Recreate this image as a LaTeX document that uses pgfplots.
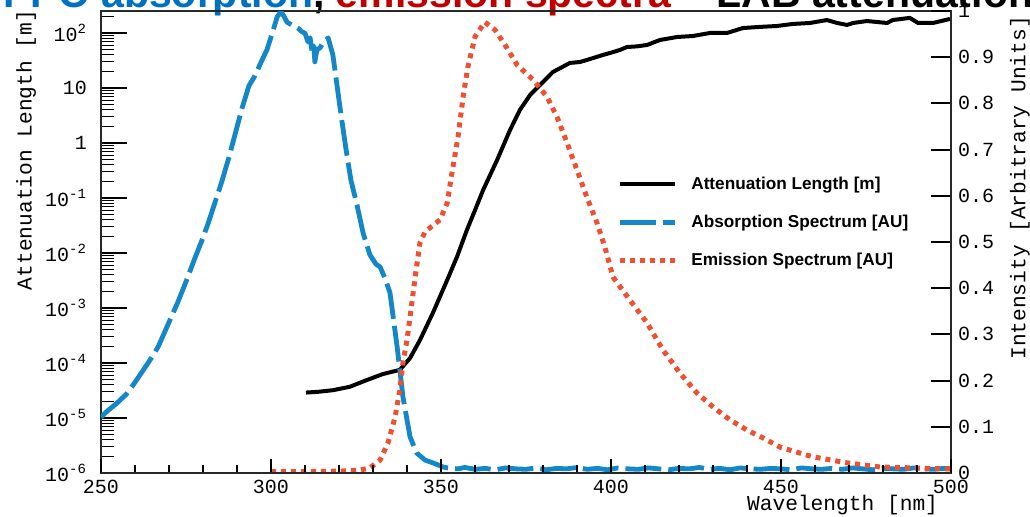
\documentclass[border=0pt]{standalone}
\usepackage{pgfplots}
\pgfplotsset{compat=1.18}
\usepackage{fontspec}
\setmainfont{Liberation Sans}
\setmonofont{Liberation Mono}
\definecolor{absblue}{RGB}{20,135,200}
\definecolor{emred}{RGB}{238,80,50}
\definecolor{titleblue}{RGB}{0,112,192}
\definecolor{titlered}{RGB}{192,0,0}
\definecolor{frame}{RGB}{40,40,40}

\begin{document}
\begin{tikzpicture}
\useasboundingbox (-50.5pt,-21.5pt) rectangle (464.5pt,236.5pt);
\begin{scope}
\clip (-50.5pt,-21.5pt) rectangle (464.5pt,236.5pt);
\node[anchor=base west, font=\bfseries\fontsize{20.5}{24}\selectfont, inner sep=0pt] at (-49pt,233pt)
  {\textcolor{titleblue}{PPO absorption}, \textcolor{titlered}{emission spectra} – LAB attenuation};
\end{scope}

% ---------- left log axis: attenuation length ----------
\begin{axis}[
  at={(0pt,0pt)}, anchor=south west, scale only axis,
  width=425pt, height=231pt,
  xmin=250, xmax=500, ymode=log, ymin=1e-6, ymax=251,
  xtick=\empty,
  ytick={1e-6,1e-5,1e-4,1e-3,1e-2,1e-1,1,10,100},
  yticklabels={10\textsuperscript{-6},10\textsuperscript{-5},10\textsuperscript{-4},10\textsuperscript{-3},10\textsuperscript{-2},10\textsuperscript{-1},1,10,10\textsuperscript{2}},
  minor ytick={2e-6,3e-6,4e-6,5e-6,6e-6,7e-6,8e-6,9e-6,
    2e-5,3e-5,4e-5,5e-5,6e-5,7e-5,8e-5,9e-5,
    2e-4,3e-4,4e-4,5e-4,6e-4,7e-4,8e-4,9e-4,
    2e-3,3e-3,4e-3,5e-3,6e-3,7e-3,8e-3,9e-3,
    2e-2,3e-2,4e-2,5e-2,6e-2,7e-2,8e-2,9e-2,
    0.2,0.3,0.4,0.5,0.6,0.7,0.8,0.9,
    2,3,4,5,6,7,8,9,
    20,30,40,50,60,70,80,90,200},
  ytick pos=left, tick align=inside,
  major tick length=13pt, minor tick length=6.5pt,
  every major tick/.append style={line width=1pt, black},
  every minor tick/.append style={line width=0.5pt, black},
  axis line style={line width=1pt, frame},
  yticklabel style={font=\ttfamily\fontsize{10}{12}\selectfont, xshift=-3.5pt},
  ylabel={Attenuation Length [m]},
  ylabel style={font=\ttfamily\fontsize{10.6}{12}\selectfont, at={(axis description cs:-0.088,0.699)}, anchor=center},
]
\addplot[black, line width=2pt, line join=round] coordinates {
(310.3,2.9e-5) (314,3.0e-5) (318.2,3.2e-5) (323.2,3.7e-5) (328.2,4.9e-5) (332.9,6.3e-5)
(337.9,7.5e-5) (340.9,1.23e-4) (343.8,2.6e-4) (347.6,8.1e-4) (351.8,3.2e-3) (354.7,8.5e-3)
(357.6,2.6e-2) (360,6.0e-2) (362.4,0.14) (366.5,0.49) (370.3,1.72) (373.2,3.98) (376.2,7.46)
(379.1,11.3) (382.9,19.5) (387.9,28.5) (390.9,29.7) (392.9,32.3) (397.6,39.8) (399.7,43.3)
(402.6,49.1) (404.7,55.6) (407.5,57) (410.6,60.5) (414.4,74.6) (419.4,84.5) (424.1,88.1)
(429.1,100) (434.1,100) (438.8,123) (443.8,129) (448.8,134) (453.5,146) (458.5,152)
(463.5,172) (466.5,152) (469.4,140) (471.2,152) (475.3,165) (481.2,152) (482.9,172)
(487.9,188) (490.3,152) (494.7,152) (499.7,180)
};
\end{axis}

% ---------- right linear axis: spectra ----------
\begin{axis}[
  at={(0pt,0pt)}, anchor=south west, scale only axis,
  width=425pt, height=231pt,
  xmin=250, xmax=500, ymin=0, ymax=1,
  axis x line=none, axis y line*=right,
  axis line style={-, line width=1pt, frame},
  ytick={0,0.1,0.2,0.3,0.4,0.5,0.6,0.7,0.8,0.9,1},
  yticklabels={0,0.1,0.2,0.3,0.4,0.5,0.6,0.7,0.8,0.9,1},
  tick align=inside, major tick length=10pt,
  every major tick/.append style={line width=1pt, black},
  yticklabel style={font=\ttfamily\fontsize{10}{12}\selectfont},
  ylabel={Intensity [Arbitrary Units]},
  ylabel style={font=\ttfamily\fontsize{10.6}{12}\selectfont, at={(axis description cs:1.081,0.617)}, anchor=center},
  legend image code/.code={\draw[#1, line cap=butt] (0pt,0pt) -- (27.5pt,0pt);},
  legend style={at={(axis description cs:0.607,0.645)}, anchor=north west,
    draw=none, fill=none, inner sep=0pt, row sep=10pt,
    font=\bfseries\fontsize{8.6}{10}\selectfont,
    nodes={inner sep=0pt, text height=7pt, text depth=2pt},
    /tikz/every odd column/.style={column sep=7pt}},
  legend cell align=left,
]
\addlegendimage{black, line width=2pt}
\addlegendentry{Attenuation Length [m]}
\addplot[absblue, line width=2.4pt, dash pattern=on 18pt off 3.5pt, line join=round] coordinates {
(250,0.121) (252,0.135) (254.5,0.150) (257.4,0.170) (259.4,0.190) (262,0.218) (265,0.251)
(266.8,0.273) (269.5,0.318) (272.5,0.368) (275,0.414) (277.4,0.461) (279.5,0.500) (281.5,0.540)
(283.5,0.585) (285.5,0.630) (287.5,0.680) (289.5,0.735) (291.5,0.790) (293.5,0.838) (295.3,0.860)
(297,0.888) (298.8,0.916) (300.5,0.955) (301.8,0.987) (302.9,0.998) (303.8,0.989) (304.7,0.976)
(306.5,0.968) (307.9,0.963) (309.1,0.955) (310.0,0.952) (310.9,0.933) (311.5,0.942) (312.1,0.911)
(312.6,0.924) (312.9,0.890) (313.5,0.916) (314.4,0.920) (315.3,0.931) (316.2,0.937) (316.8,0.942)
(318.2,0.905) (319.4,0.840) (320.6,0.775) (322.1,0.699) (323.5,0.634) (325.3,0.580) (327.1,0.519)
(329.1,0.472) (330.9,0.452) (332.1,0.446) (333.5,0.422) (335.0,0.390) (337.1,0.273) (337.9,0.223)
(338.8,0.165) (340.9,0.078) (342.9,0.043) (345.3,0.028) (347.6,0.022) (350.6,0.013)
(352,0.011) (355,0.009) (357,0.012) (360,0.008) (363,0.010) (366,0.007) (369,0.011) (372,0.009)
(375,0.008) (378,0.011) (381,0.007) (384,0.010) (387,0.009) (390,0.012) (393,0.008) (396,0.010)
(399,0.007) (402,0.011) (405,0.009) (408,0.008) (411,0.011) (414,0.009) (417,0.007) (420,0.010)
(423,0.009) (426,0.012) (429,0.008) (432,0.010) (435,0.007) (438,0.011) (441,0.009) (444,0.008)
(447,0.010) (450,0.009) (453,0.007) (456,0.011) (459,0.009) (462,0.008) (465,0.010) (468,0.008)
(471,0.011) (474,0.009) (477,0.007) (480,0.010) (483,0.009) (486,0.008) (489,0.011) (492,0.009)
(495,0.008) (498,0.010) (500,0.009)
};
\addlegendentry{Absorption Spectrum [AU]}
\addplot[emred, line width=2.5pt, dash pattern=on 2.5pt off 2.5pt, line join=round] coordinates {
(300,0.003) (310,0.003) (320,0.004) (326,0.006) (329.1,0.011) (332.1,0.028) (334.4,0.065)
(336.5,0.121) (337.9,0.180) (338.8,0.238) (340.0,0.288) (340.9,0.338) (342.4,0.424) (343.8,0.498)
(345.3,0.522) (347.5,0.535) (349.7,0.548) (351.8,0.584) (353.5,0.662) (355.0,0.727) (356.5,0.814)
(357.9,0.879) (360.0,0.944) (362.9,0.976) (365.9,0.959) (369.4,0.920) (372.4,0.883) (377.1,0.851)
(381.2,0.814) (384.1,0.771) (387.1,0.714) (390.0,0.656) (392.9,0.597) (395.9,0.541) (398.2,0.489)
(400.6,0.424) (405.6,0.374) (410.6,0.325) (415.3,0.266) (420.3,0.216) (425.3,0.173) (430.0,0.143)
(435.0,0.115) (440.0,0.093) (444.7,0.076) (449.7,0.056) (454.7,0.045) (459.4,0.035) (469.4,0.022)
(479.1,0.013) (488.8,0.011) (498.8,0.009) (500,0.009)
};
\addlegendentry{Emission Spectrum [AU]}
\end{axis}

% ---------- bottom x axis ticks ----------
\begin{axis}[
  at={(0pt,0pt)}, anchor=south west, scale only axis,
  width=425pt, height=231pt,
  xmin=250, xmax=500, ymin=0, ymax=1,
  axis y line=none, axis x line*=bottom,
  axis line style={-, line width=1pt, frame},
  xtick={250,300,350,400,450,500}, minor x tick num=4,
  tick align=inside, major tick length=7pt, minor tick length=4pt,
  every major tick/.append style={line width=1pt, black},
  every minor tick/.append style={line width=0.7pt, black},
  xticklabel style={font=\ttfamily\fontsize{10}{12}\selectfont},
  /pgf/number format/assume math mode=true,
  xlabel={Wavelength [nm]},
  xlabel style={font=\ttfamily\fontsize{10.6}{12}\selectfont, at={(axis description cs:0.993,-0.069)}, anchor=east},
]
\end{axis}
\end{tikzpicture}
\end{document}
